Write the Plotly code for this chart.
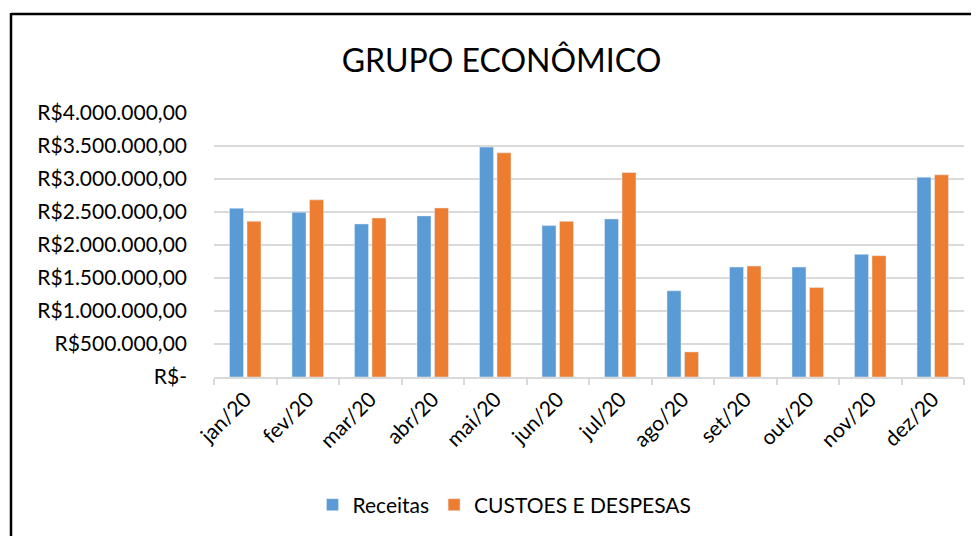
import plotly.graph_objects as go

months = ["jan/20", "fev/20", "mar/20", "abr/20", "mai/20", "jun/20",
          "jul/20", "ago/20", "set/20", "out/20", "nov/20", "dez/20"]
receitas = [2557000, 2496000, 2319000, 2441000, 3484000, 2294000,
            2395000, 1306000, 1666000, 1666000, 1858000, 3028000]
custos = [2359000, 2684000, 2410000, 2562000, 3397000, 2359000,
          3099000, 380000, 1681000, 1357000, 1838000, 3063000]
y_tickvals = [0, 500000, 1000000, 1500000, 2000000, 2500000, 3000000, 3500000, 4000000]
y_ticktext = ["R$-", "R$500.000,00", "R$1.000.000,00", "R$1.500.000,00", "R$2.000.000,00",
              "R$2.500.000,00", "R$3.000.000,00", "R$3.500.000,00", "R$4.000.000,00"]

FONT = "Lato"
W, H = 979, 536
OFF = 8  # page body offset
L, T = 214 - OFF, 113 - OFF
R = W - (964 - OFF)
B = H - (377 - OFF)
pw, ph = W - L - R, H - T - B


def px_x(x):
    return (x - OFF - L) / pw


def px_y(y):
    return (H - B - (y - OFF)) / ph


fig = go.Figure()
fig.add_trace(go.Bar(name="Receitas", x=months, y=receitas, marker_color="#5B9BD5"))
fig.add_trace(go.Bar(name="CUSTOES E DESPESAS", x=months, y=custos, marker_color="#ED7D31"))

fig.update_layout(
    width=W, height=H,
    margin=dict(l=L, r=R, t=T, b=B, autoexpand=False),
    paper_bgcolor="white", plot_bgcolor="white",
    barmode="group", bargap=0.44, bargroupgap=0.2,
    font=dict(family=FONT, color="#000000", size=21),
    title=dict(text="GRUPO ECONÔMICO", x=(501.5 - OFF) / W, xanchor="center",
               y=1 - (61 - OFF) / H, yanchor="middle", yref="container",
               font=dict(size=32, family=FONT, color="#000000")),
    legend=dict(orientation="h", x=px_x(504.5), xanchor="center",
                y=px_y(505), yanchor="middle", font=dict(size=21),
                itemwidth=30, traceorder="normal"),
    xaxis=dict(showline=True, linecolor="#D9D9D9", linewidth=1.5,
               ticks="outside", tickson="boundaries", ticklen=6, tickcolor="#D9D9D9",
               tickwidth=1.5, tickangle=-45, tickfont=dict(size=21)),
    yaxis=dict(range=[0, 4000000], tickvals=y_tickvals, ticktext=y_ticktext,
               showgrid=True, gridcolor="#D9D9D9", gridwidth=1.5,
               zeroline=False, showline=False, ticklabelstandoff=26,
               tickfont=dict(size=21)),
    shapes=[
        dict(type="line", xref="paper", yref="paper",
             x0=px_x(11), x1=px_x(11), y0=px_y(13), y1=px_y(580),
             line=dict(color="#000000", width=2.5)),
        dict(type="line", xref="paper", yref="paper",
             x0=px_x(11), x1=px_x(1020), y0=px_y(14), y1=px_y(14),
             line=dict(color="#000000", width=2.5)),
    ],
)

fig.write_html("out.html")
